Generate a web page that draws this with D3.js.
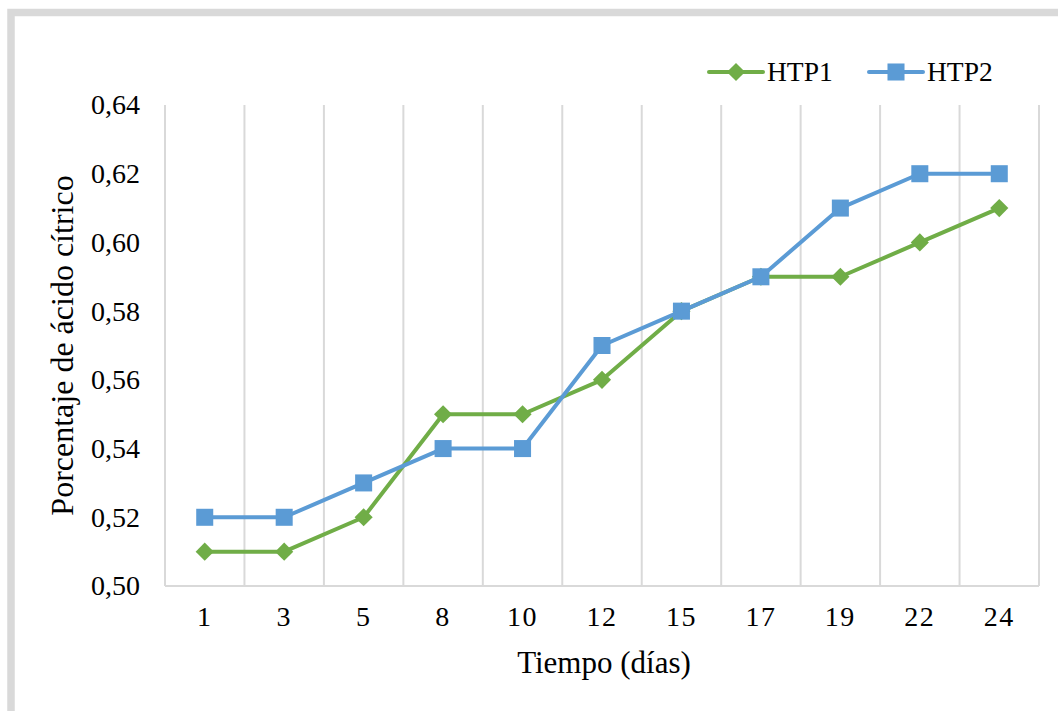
<!DOCTYPE html>
<html>
  <head>
    <meta charset="utf-8">
    <title>Porcentaje de ácido cítrico</title>
    <script src="https://d3js.org/d3.v7.min.js"></script>
    <style>
      body { margin: 0; background: #fff; }
      svg text { font-family: "Liberation Serif", "Times New Roman", Times, "DejaVu Serif", serif; fill: #000; }
    </style>
  </head>
  <body>
    <svg id="chart" width="1058" height="711"></svg>
    <script>
      // data
      const days = ["1", "3", "5", "8", "10", "12", "15", "17", "19", "22", "24"];
      const htp1 = [0.51, 0.51, 0.52, 0.55, 0.55, 0.56, 0.58, 0.59, 0.59, 0.60, 0.61];
      const htp2 = [0.52, 0.52, 0.53, 0.54, 0.54, 0.57, 0.58, 0.59, 0.61, 0.62, 0.62];
      const yTicks = [0.50, 0.52, 0.54, 0.56, 0.58, 0.60, 0.62, 0.64];
      const seriesNames = ["HTP1", "HTP2"];
      const colours = ["#70AD47", "#5B9BD5"];

      const svg = d3.select("#chart");
      const plotLeft = 165, plotRight = 1039, plotTop = 105, plotBottom = 586;

      // outer frame
      svg.append("rect")
        .attr("x", 11).attr("y", 12.5)
        .attr("width", 1200).attr("height", 900)
        .attr("fill", "none")
        .attr("stroke", "#d9d9d9")
        .attr("stroke-width", 7.5);

      const x = d3.scaleBand().domain(days).range([plotLeft, plotRight]).padding(0);
      const y = d3.scaleLinear().domain([0.50, 0.64]).range([plotBottom, plotTop]);

      // vertical gridlines at category boundaries
      const bounds = d3.range(days.length + 1).map(function(i) { return plotLeft + i * x.step(); });
      svg.append("g")
        .selectAll("line")
          .data(bounds)
        .enter().append("line")
          .attr("x1", function(d) { return d; })
          .attr("x2", function(d) { return d; })
          .attr("y1", plotTop)
          .attr("y2", plotBottom)
          .attr("stroke", "#d9d9d9")
          .attr("stroke-width", 2);
      svg.append("line")
        .attr("x1", plotLeft).attr("x2", plotRight)
        .attr("y1", plotBottom).attr("y2", plotBottom)
        .attr("stroke", "#d9d9d9")
        .attr("stroke-width", 2);

      // y axis
      const yAxis = d3.axisLeft(y)
        .tickValues(yTicks)
        .tickFormat(function(d) { return d3.format(".2f")(d).replace(".", ","); })
        .tickSize(0)
        .tickPadding(25);
      svg.append("g")
        .attr("transform", "translate(" + plotLeft + ",0)")
        .call(yAxis)
        .call(function(g) { g.select(".domain").remove(); })
        .selectAll("text")
          .attr("font-size", 28);

      // x axis
      const xAxis = d3.axisBottom(x)
        .tickSize(0)
        .tickPadding(20);
      svg.append("g")
        .attr("transform", "translate(0," + plotBottom + ")")
        .call(xAxis)
        .call(function(g) { g.select(".domain").remove(); })
        .selectAll("text")
          .attr("font-size", 28)
          .attr("letter-spacing", 1.5);

      // axis titles
      svg.append("text")
        .attr("x", (plotLeft + plotRight) / 2 + 2)
        .attr("y", 673)
        .attr("text-anchor", "middle")
        .attr("font-size", 31)
        .text("Tiempo (días)");
      svg.append("text")
        .attr("transform", "translate(73," + (plotTop + plotBottom) / 2 + ") rotate(-90)")
        .attr("text-anchor", "middle")
        .attr("font-size", 32)
        .text("Porcentaje de ácido cítrico");

      // series
      const series = [htp1, htp2];
      const line = d3.line()
        .x(function(d, i) { return x(days[i]) + x.bandwidth() / 2; })
        .y(function(d) { return y(d); });
      const diamond = d3.symbol().type(d3.symbolSquare).size(165);
      const square = d3.symbol().type(d3.symbolSquare).size(290);
      function marker(i) { return i === 0 ? diamond() : square(); }
      function rot(i) { return i === 0 ? " rotate(45)" : ""; }

      series.forEach(function(values, s) {
        const g = svg.append("g");
        g.append("path")
          .datum(values)
          .attr("fill", "none")
          .attr("stroke", colours[s])
          .attr("stroke-width", 4)
          .attr("stroke-linejoin", "round")
          .attr("d", line);
        g.selectAll(".pt")
            .data(values)
          .enter().append("path")
            .attr("class", "pt")
            .attr("fill", colours[s])
            .attr("transform", function(d, i) {
              return "translate(" + (x(days[i]) + x.bandwidth() / 2) + "," + y(d) + ")" + rot(s);
            })
            .attr("d", marker(s));
      });

      // legend
      const legendX = [709, 869];
      const legend = svg.append("g");
      seriesNames.forEach(function(name, s) {
        const lg = legend.append("g").attr("transform", "translate(" + legendX[s] + ",72)");
        lg.append("line")
          .attr("x1", 0).attr("x2", 54)
          .attr("stroke", colours[s])
          .attr("stroke-width", 4)
          .attr("stroke-linecap", "round");
        lg.append("path")
          .attr("transform", "translate(27,0)" + rot(s))
          .attr("fill", colours[s])
          .attr("d", marker(s));
        lg.append("text")
          .attr("x", 58)
          .attr("y", 9)
          .attr("font-size", 27.5)
          .text(name);
      });
    </script>
  </body>
</html>
